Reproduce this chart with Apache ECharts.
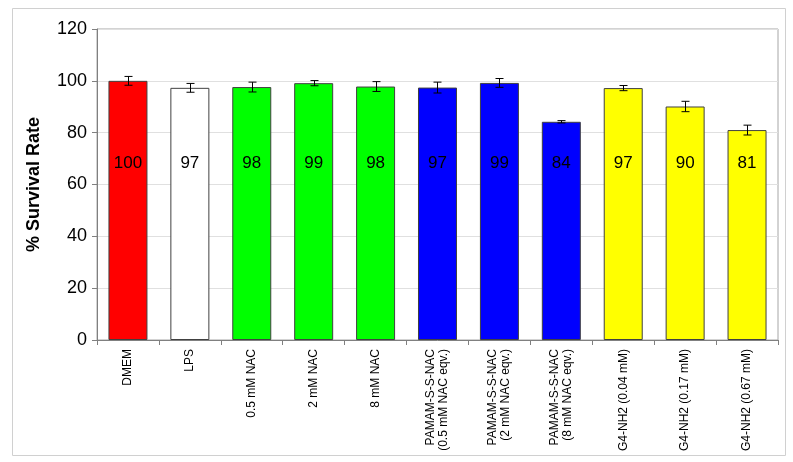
<!DOCTYPE html>
<html>
<head>
<meta charset="utf-8">
<script src="https://cdn.jsdelivr.net/npm/echarts@6/dist/echarts.min.js"></script>
<style>
  html, body { margin: 0; padding: 0; background: #fff; }
  #chart { width: 793px; height: 462px; }
</style>
</head>
<body>
<div id="chart"></div>
<script>
const categories = [
  'DMEM', 'LPS', '0.5 mM NAC', '2 mM NAC', '8 mM NAC',
  'PAMAM-S-S-NAC\n(0.5 mM NAC eqv.)', 'PAMAM-S-S-NAC\n(2 mM NAC eqv.)', 'PAMAM-S-S-NAC\n(8 mM NAC eqv.)',
  'G4-NH2 (0.04 mM)', 'G4-NH2 (0.17 mM)', 'G4-NH2 (0.67 mM)'
];
const survival = [100, 97.3, 97.6, 99.1, 97.8, 97.4, 99.2, 84.2, 97.2, 90.1, 81.0];
const errors = [1.7, 1.7, 1.9, 1.0, 1.9, 2.1, 1.7, 0.45, 1.0, 2.0, 1.9];
const barColors = ['#ff0000', '#ffffff', '#00ff00', '#00ff00', '#00ff00',
  '#0000ff', '#0000ff', '#0000ff', '#ffff00', '#ffff00', '#ffff00'];
const yTicks = [0, 20, 40, 60, 80, 100, 120];

const font = '"Liberation Sans", Arial, sans-serif';

const chart = echarts.init(document.getElementById('chart'));

const option = {
  animation: false,
  backgroundColor: '#fff',
  graphic: [{
    type: 'rect',
    shape: {x: 12.5, y: 8.5, width: 773, height: 447},
    style: {fill: 'none', stroke: '#d0d0d0', lineWidth: 1},
    silent: true
  }],
  grid: {left: 97, right: 15, top: 29, bottom: 122, show: true, borderColor: '#a6a6a6', borderWidth: 1},
  xAxis: {
    type: 'category',
    data: categories,
    axisLine: {lineStyle: {color: '#808080'}},
    axisTick: {show: true, length: 5, lineStyle: {color: '#808080'}},
    axisLabel: {
      rotate: 90,
      interval: 0,
      margin: 9,
      fontFamily: font,
      fontSize: 12,
      color: '#000',
      lineHeight: 13
    }
  },
  yAxis: {
    type: 'value',
    min: yTicks[0],
    max: yTicks[yTicks.length - 1],
    interval: 20,
    name: '% Survival Rate',
    nameLocation: 'middle',
    nameGap: 54,
    nameTextStyle: {fontFamily: font, fontSize: 18, fontWeight: 'bold', color: '#000'},
    axisLine: {show: true, lineStyle: {color: '#808080'}},
    axisTick: {show: true, length: 5, lineStyle: {color: '#808080'}},
    axisLabel: {fontFamily: font, fontSize: 18, color: '#000', margin: 10},
    splitLine: {lineStyle: {color: '#e0e0e0'}}
  },
  series: [
    {
      type: 'bar',
      barWidth: '63%',
      data: survival.map((v, i) => ({
        value: v,
        itemStyle: {color: barColors[i], borderColor: '#404040', borderWidth: 1}
      })),
      label: {
        show: true,
        position: 'insideBottom',
        distance: 168,
        fontFamily: font,
        fontSize: 17,
        color: '#000',
        formatter: p => Math.round(p.value)
      }
    },
    {
      type: 'custom',
      data: survival.map((v, i) => [i, v - errors[i], v + errors[i]]),
      z: 10,
      renderItem: function (params, api) {
        const lo = api.coord([api.value(0), api.value(1)]);
        const hi = api.coord([api.value(0), api.value(2)]);
        const x = Math.round(lo[0]) + 0.5;
        const cap = 4;
        const style = {stroke: '#000', lineWidth: 1};
        return {
          type: 'group',
          children: [
            {type: 'line', shape: {x1: x, y1: lo[1], x2: x, y2: hi[1]}, style},
            {type: 'line', shape: {x1: x - cap, y1: lo[1], x2: x + cap, y2: lo[1]}, style},
            {type: 'line', shape: {x1: x - cap, y1: hi[1], x2: x + cap, y2: hi[1]}, style}
          ]
        };
      }
    }
  ]
};

chart.setOption(option);
</script>
</body>
</html>
